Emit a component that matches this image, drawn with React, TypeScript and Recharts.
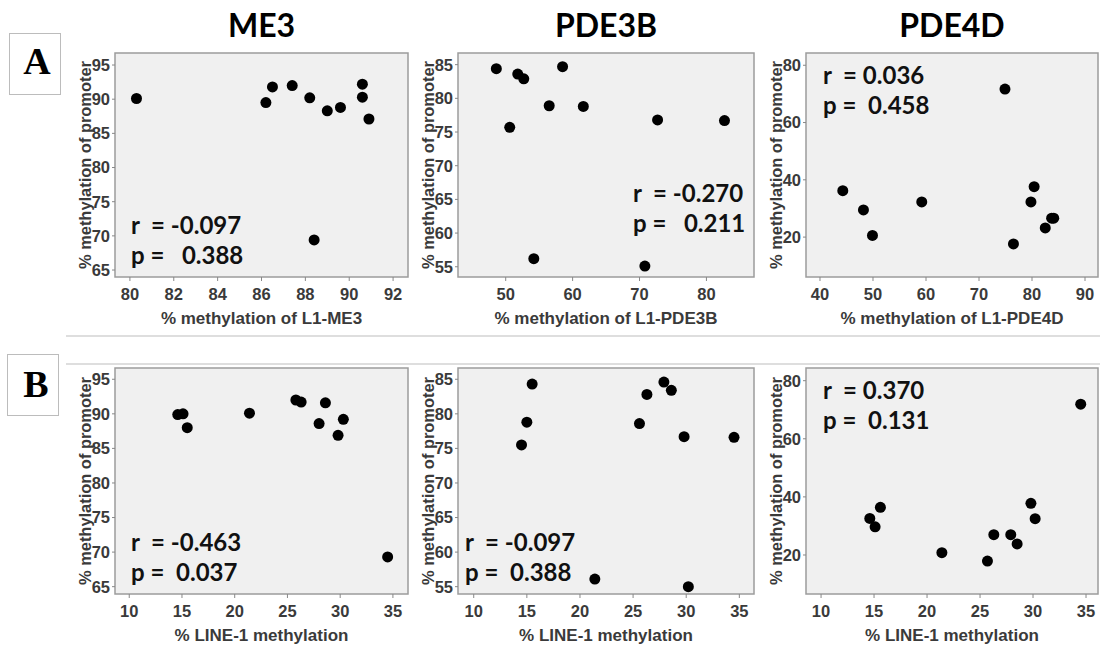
import React from 'react';
import { ScatterChart, Scatter, XAxis, YAxis, ReferenceArea } from 'recharts';

// ---- data ----
const geneTitles = ['ME3', 'PDE3B', 'PDE4D'];
const rowLetters = ['A', 'B'];
const xLabelsA = ['% methylation of L1-ME3', '% methylation of L1-PDE3B', '% methylation of L1-PDE4D'];
const xLabelB = '% LINE-1 methylation';
const yLabel = '% methylation of promoter';

// Row A: L1 methylation vs promoter methylation
const me3L1 = [80.3, 86.2, 86.5, 87.4, 88.2, 89.0, 89.6, 90.6, 90.6, 90.9, 88.4];
const me3PromA = [90.1, 89.5, 91.8, 92.0, 90.2, 88.3, 88.8, 90.3, 92.2, 87.1, 69.4];
const pde3bL1 = [48.6, 50.6, 51.8, 52.7, 54.2, 56.5, 58.5, 61.6, 70.8, 72.7, 82.7];
const pde3bPromA = [84.4, 75.7, 83.6, 82.9, 56.2, 78.9, 84.7, 78.8, 55.1, 76.8, 76.7];
const pde4dL1 = [44.3, 48.2, 49.9, 59.2, 74.9, 76.5, 79.8, 80.4, 82.5, 83.7, 84.1];
const pde4dPromA = [36.2, 29.5, 20.6, 32.3, 71.7, 17.6, 32.3, 37.6, 23.2, 26.6, 26.6];

// Row B: LINE-1 methylation vs promoter methylation
const me3Line1 = [14.6, 15.1, 15.5, 21.4, 25.8, 26.3, 28.0, 28.6, 29.8, 30.3, 34.5];
const me3PromB = [89.9, 90.0, 88.0, 90.1, 92.0, 91.7, 88.6, 91.6, 86.9, 89.2, 69.3];
const pde3bLine1 = [14.5, 15.0, 15.5, 21.4, 25.6, 26.3, 27.9, 28.6, 29.8, 30.2, 34.5];
const pde3bPromB = [75.5, 78.8, 84.3, 56.1, 78.6, 82.8, 84.6, 83.4, 76.7, 55.0, 76.6];
const pde4dLine1 = [14.6, 15.1, 15.6, 21.4, 25.7, 26.3, 27.9, 28.5, 29.8, 30.2, 34.5];
const pde4dPromB = [32.6, 29.7, 36.4, 20.8, 17.9, 27.0, 27.0, 23.8, 37.8, 32.5, 71.9];

// ticks
const me3XTicksA = [80, 82, 84, 86, 88, 90, 92];
const pde3bXTicksA = [50, 60, 70, 80];
const pde4dXTicksA = [40, 50, 60, 70, 80, 90];
const line1Ticks = [10, 15, 20, 25, 30, 35];
const me3YTicks = [65, 70, 75, 80, 85, 90, 95];
const pde3bYTicks = [55, 60, 65, 70, 75, 80, 85];
const pde4dYTicks = [20, 40, 60, 80];

// stats text
const rTexts = [['r  = -0.097', 'r  = -0.270', 'r  = 0.036'], ['r  = -0.463', 'r  = -0.097', 'r  = 0.370']];
const pTexts = [['p =   0.388', 'p =   0.211', 'p =  0.458'], ['p =  0.037', 'p =  0.388', 'p =  0.131']];

// ---- layout ----
const colBoxes = [
  { x: 115, w: 293 },
  { x: 458, w: 296 },
  { x: 806, w: 292 },
];
const rowBoxes = [
  { y: 53, h: 224 },
  { y: 368, h: 226 },
];
// annotation positions [row][col] -> [x, centerY of r line]
const annoPos = [
  [[131, 225], [633, 193], [823, 75]],
  [[131, 542], [465, 542], [823, 390]],
];

const tickStyle = { fill: '#3a3a3a', fontSize: 16.5, fontWeight: 700, fontFamily: 'Liberation Sans, Arial, sans-serif' };

const Dot = (props: any) => <circle cx={props.cx} cy={props.cy} r={5.5} fill="#000" />;

function Panel(props: {
  bx: number; by: number; bw: number; bh: number;
  xDomain: number[]; xTicks: number[]; yDomain: number[]; yTicks: number[];
  xs: number[]; ys: number[];
}) {
  const L = 50, R = 6, T = 6, B = 34;
  const data = props.xs.map((x, i) => ({ x, y: props.ys[i] }));
  return (
    <div style={{ position: 'absolute', left: props.bx - L, top: props.by - T }}>
      <ScatterChart width={L + props.bw + R} height={T + props.bh + B} margin={{ top: T, right: R, bottom: 0, left: 0 }}>
        <XAxis
          type="number" dataKey="x" domain={props.xDomain} ticks={props.xTicks} height={B}
          axisLine={false} tickLine={{ stroke: '#888' }} tickSize={4} tickMargin={7}
          tick={tickStyle} interval={0} allowDataOverflow
        />
        <YAxis
          type="number" dataKey="y" domain={props.yDomain} ticks={props.yTicks} width={L}
          axisLine={false} tickLine={{ stroke: '#888' }} tickSize={3} tickMargin={2}
          tick={tickStyle} interval={0} allowDataOverflow
        />
        <ReferenceArea
          x1={props.xDomain[0]} x2={props.xDomain[1]} y1={props.yDomain[0]} y2={props.yDomain[1]}
          fill="#f0f0f0" fillOpacity={1} stroke="#9c9c9c" strokeWidth={1.5} ifOverflow="visible"
        />
        <Scatter data={data} isAnimationActive={false} shape={Dot} />
      </ScatterChart>
    </div>
  );
}

const panels = [
  [
    { xDomain: [79.32, 92.68], xTicks: me3XTicksA, yDomain: [63.98, 96.76], yTicks: me3YTicks, xs: me3L1, ys: me3PromA },
    { xDomain: [42.87, 87.11], xTicks: pde3bXTicksA, yDomain: [53.48, 86.73], yTicks: pde3bYTicks, xs: pde3bL1, ys: pde3bPromA },
    { xDomain: [37.36, 92.45], xTicks: pde4dXTicksA, yDomain: [6.07, 84.28], yTicks: pde4dYTicks, xs: pde4dL1, ys: pde4dPromA },
  ],
  [
    { xDomain: [8.65, 36.43], xTicks: line1Ticks, yDomain: [63.94, 96.63], yTicks: me3YTicks, xs: me3Line1, ys: me3PromB },
    { xDomain: [8.52, 36.38], xTicks: line1Ticks, yDomain: [53.94, 86.63], yTicks: pde3bYTicks, xs: pde3bLine1, ys: pde3bPromB },
    { xDomain: [8.58, 36.13], xTicks: line1Ticks, yDomain: [6.57, 84.37], yTicks: pde4dYTicks, xs: pde4dLine1, ys: pde4dPromB },
  ],
];

export default function App() {
  const labelFont = 'Liberation Sans, Arial, sans-serif';
  const statFont = 'Lato, sans-serif';
  return (
    <div style={{ position: 'absolute', left: 0, top: 0, width: 1100, height: 653, background: '#fff', overflow: 'hidden' }}>
      {panels.map((row, ri) =>
        row.map((p, ci) => (
          <Panel
            key={`${ri}-${ci}`}
            bx={colBoxes[ci].x} bw={colBoxes[ci].w} by={rowBoxes[ri].y} bh={rowBoxes[ri].h}
            {...p}
          />
        ))
      )}
      <svg width={1100} height={653} style={{ position: 'absolute', left: 0, top: 0, pointerEvents: 'none' }}>
        {/* separator lines */}
        <line x1={66} x2={1100} y1={336} y2={336} stroke="#bdbdbd" strokeWidth={1.2} />
        <line x1={66} x2={1100} y1={364} y2={364} stroke="#bdbdbd" strokeWidth={1.2} />
        {/* row letters */}
        <rect x={9.5} y={33.5} width={51} height={61} fill="#fff" stroke="#bcbcbc" strokeWidth={1} />
        <text x={37} y={74} textAnchor="middle" fontFamily="Liberation Serif, Times New Roman, serif" fontWeight={700} fontSize={38} fill="#000">{rowLetters[0]}</text>
        <rect x={7.5} y={354.5} width={51} height={61} fill="#fff" stroke="#bcbcbc" strokeWidth={1} />
        <text x={36} y={397} textAnchor="middle" fontFamily="Liberation Serif, Times New Roman, serif" fontWeight={700} fontSize={38} fill="#000">{rowLetters[1]}</text>
        {/* titles */}
        {geneTitles.map((t, ci) => (
          <text key={t} x={colBoxes[ci].x + colBoxes[ci].w / 2} y={37} textAnchor="middle" fontFamily={statFont} fontWeight={700} fontSize={32} fill="#000">{t}</text>
        ))}
        {/* axis labels */}
        {rowBoxes.map((rb, ri) =>
          colBoxes.map((cb, ci) => (
            <g key={`lab-${ri}-${ci}`}>
              <text
                transform={`translate(${cb.x - 30},${rb.y + rb.h / 2}) rotate(-90)`}
                textAnchor="middle" dominantBaseline="central"
                fontFamily={labelFont} fontWeight={700} fontSize={17} fill="#3a3a3a"
                textLength={208} lengthAdjust="spacingAndGlyphs"
              >{yLabel}</text>
              <text
                x={cb.x + cb.w / 2} y={rb.y + rb.h + 41}
                textAnchor="middle" dominantBaseline="central"
                fontFamily={labelFont} fontWeight={700} fontSize={17} fill="#3a3a3a"
              >{ri === 0 ? xLabelsA[ci] : xLabelB}</text>
            </g>
          ))
        )}
        {/* stats */}
        {annoPos.map((row, ri) =>
          row.map((pos, ci) => (
            <g key={`st-${ri}-${ci}`} fontFamily={statFont} fontWeight={700} fontSize={24} fill="#111" style={{ whiteSpace: 'pre' }}>
              <text x={pos[0]} y={pos[1] + 8.5} xmlSpace="preserve">{rTexts[ri][ci]}</text>
              <text x={pos[0]} y={pos[1] + 38.5} xmlSpace="preserve">{pTexts[ri][ci]}</text>
            </g>
          ))
        )}
      </svg>
    </div>
  );
}
